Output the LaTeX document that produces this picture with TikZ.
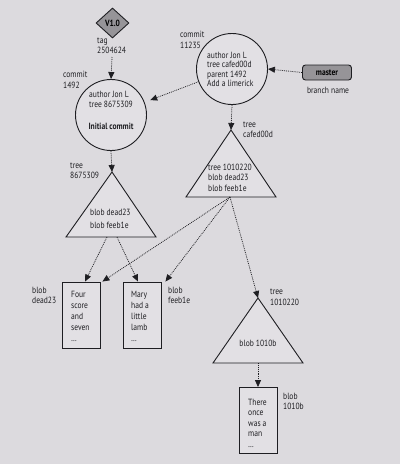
\documentclass[tikz,border=0pt]{standalone}
\usepackage{fontspec}
\setmainfont{PT Sans}[FakeStretch=0.84]
\usetikzlibrary{arrows.meta,shapes.geometric}
\definecolor{bg}{RGB}{220,218,222}
\definecolor{objfill}{RGB}{226,224,228}
\definecolor{ink}{RGB}{30,30,34}
\definecolor{tagfill}{RGB}{150,148,152}
\begin{document}
\begin{tikzpicture}[x=1pt,y=-1pt,
  font=\fontsize{9}{10.5}\selectfont,
  obj/.style={draw=ink, line width=0.9pt, fill=objfill},
  commitc/.style={obj, circle, inner sep=0pt, minimum size=71pt},
  blobbox/.style={obj, rectangle, minimum width=38pt, minimum height=66pt, inner sep=0pt},
  tri/.style={obj, line join=miter},
  tagd/.style={draw=ink, line width=0.9pt, fill=tagfill, diamond, minimum width=33pt, minimum height=30pt, inner sep=0pt, font=\fontsize{9}{10.5}\selectfont\bfseries},
  branchbox/.style={draw=ink, line width=0.9pt, fill=tagfill, rounded corners=3pt, minimum width=49pt, minimum height=15pt, inner sep=0pt, font=\fontsize{9}{10.5}\selectfont\bfseries},
  lbl/.style={align=left, inner sep=0pt, anchor=west, text=ink},
  txt/.style={align=left, inner sep=0pt, anchor=west, text=ink},
  ptr/.style={draw=ink, line width=0.75pt, dash pattern=on 0.9pt off 1pt, -{Triangle[width=6pt,length=7pt]}}
]
\path[fill=bg] (0,0) rectangle (400,464);

% tag
\node[tagd] (v10) at (112.5,23) {V1.0};
\node[lbl] (taglbl) at (97,46) {tag\\2504624};
\coordinate (tagend) at (112,57);

% commits
\node[commitc] (c1492) at (111,115) {};
\node[txt] (c1492txt) at (89,99.5) {author Jon L\\tree 8675309};
\node[inner sep=0pt, text=ink, font=\fontsize{9}{10.5}\selectfont\bfseries] (c1492msg) at (111,126) {Initial commit};
\node[lbl] (c1492lbl) at (63,80) {commit\\1492};

\node[commitc] (c11235) at (232,69) {};
\node[txt, font=\fontsize{9}{9.3}\selectfont] (c11235txt) at (207,69.5) {author Jon L\\tree cafed00d\\parent 1492\\Add a limerick};
\node[lbl] (c11235lbl) at (180,40) {commit\\11235};

% branch
\node[branchbox] (master) at (327,72.5) {master};
\node[inner sep=0pt, text=ink] (branchlbl) at (328,90.5) {branch name};

% trees
\coordinate (t1apex) at (112,172);
\coordinate (t1l) at (66,237);
\coordinate (t1r) at (156,237);
\draw[tri] (t1apex) -- (t1r) -- (t1l) -- cycle;
\node[txt] (t1txt) at (90,219) {blob dead23\\[3pt]blob feeb1e};
\node[lbl] (t1lbl) at (70,171) {tree\\8675309};
\coordinate (t1a) at (107,237);
\coordinate (t1b) at (117,237);

\coordinate (t2apex) at (231,130);
\coordinate (t2l) at (186,197);
\coordinate (t2r) at (276,197);
\draw[tri] (t2apex) -- (t2r) -- (t2l) -- cycle;
\node[txt, font=\fontsize{9}{10.5}\selectfont] (t2txt) at (208,177.5) {tree 1010220\\blob dead23\\blob feeb1e};
\node[lbl] (t2lbl) at (243,130) {tree\\cafed00d};
\coordinate (t2b) at (230,197);

\coordinate (t3apex) at (258,298);
\coordinate (t3l) at (213,363);
\coordinate (t3r) at (303,363);
\draw[tri] (t3apex) -- (t3r) -- (t3l) -- cycle;
\node[inner sep=0pt, text=ink] (t3txt) at (258,343) {blob 1010b};
\node[lbl] (t3lbl) at (270,297.5) {tree\\1010220};
\coordinate (t3b) at (258,363);

% blobs
\node[blobbox] (b1) at (81,315) {};
\node[txt, font=\fontsize{9}{11}\selectfont] (b1txt) at (71,316.5) {Four\\score\\and\\seven\\\dots};
\node[lbl] (b1lbl) at (32,295.5) {blob\\dead23};

\node[blobbox] (b2) at (142,315) {};
\node[txt, font=\fontsize{9}{11}\selectfont] (b2txt) at (131,316.5) {Mary\\had a\\little\\lamb\\\dots};
\node[lbl] (b2lbl) at (168,295.5) {blob\\feeb1e};

\node[blobbox] (b3) at (258,420.5) {};
\node[txt, font=\fontsize{9}{10.5}\selectfont] (b3txt) at (248,423) {There\\once\\was a\\man\\\dots};
\node[lbl] (b3lbl) at (283,401.5) {blob\\1010b};

% pointers
\draw[ptr] (tagend) -- (c1492.north);
\draw[ptr] (master.west) -- (c11235.east);
\draw[ptr, shorten >=6pt] (c11235) -- (c1492);
\draw[ptr] (c11235.south) -- (t2apex);
\draw[ptr] (c1492.south) -- (t1apex);
\draw[ptr] (t1a) -- ([xshift=4pt]b1.north);
\draw[ptr] (t1b) -- ([xshift=-4pt]b2.north);
\draw[ptr] (t2b) -- ([xshift=2pt]b1.north east);
\draw[ptr] (t2b) -- ([xshift=4pt]b2.north east);
\draw[ptr] (t2b) -- (t3apex);
\draw[ptr] (t3b) -- (b3.north);
\end{tikzpicture}
\end{document}
